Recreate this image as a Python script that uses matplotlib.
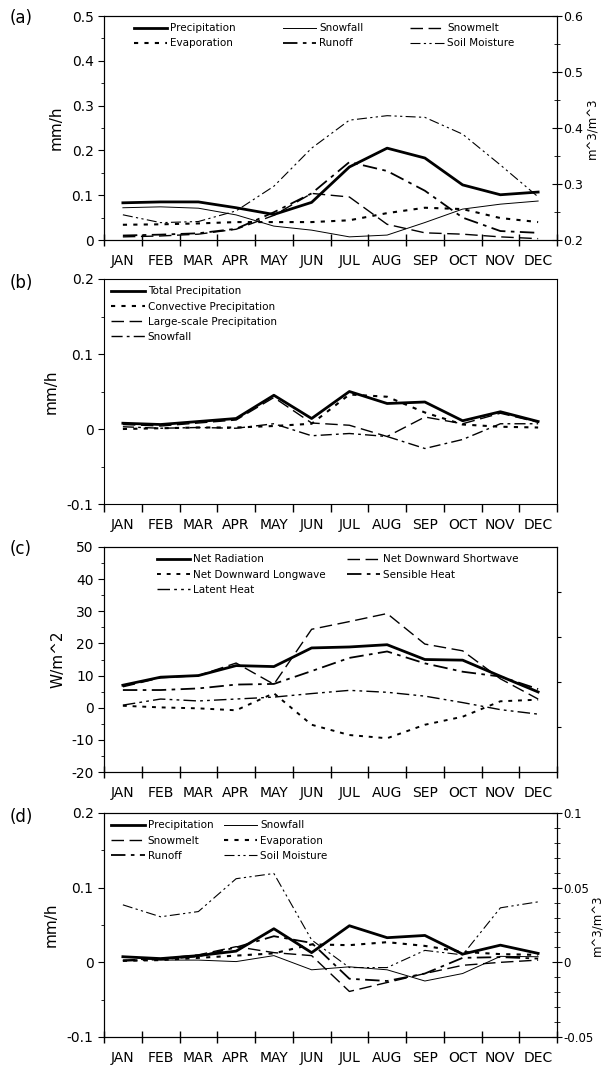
import matplotlib
matplotlib.use('Agg')
import matplotlib.pyplot as plt
import numpy as np

plt.rcParams['font.family'] = ['DejaVu Sans']

months = ['JAN', 'FEB', 'MAR', 'APR', 'MAY', 'JUN', 'JUL', 'AUG', 'SEP', 'OCT', 'NOV', 'DEC']

# --- (a) climatologia ---
a_precip = [0.083, 0.085, 0.085, 0.072, 0.057, 0.084, 0.163, 0.205, 0.183, 0.123, 0.101, 0.107]
a_snowfall = [0.072, 0.074, 0.071, 0.056, 0.031, 0.022, 0.007, 0.011, 0.039, 0.069, 0.080, 0.087]
a_snowmelt = [0.007, 0.009, 0.013, 0.024, 0.055, 0.104, 0.096, 0.035, 0.016, 0.013, 0.007, 0.003]
a_evap = [0.034, 0.035, 0.037, 0.040, 0.040, 0.040, 0.044, 0.060, 0.072, 0.069, 0.049, 0.040]
a_runoff = [0.010, 0.012, 0.015, 0.025, 0.062, 0.104, 0.174, 0.154, 0.110, 0.050, 0.020, 0.016]
a_soil = [0.245, 0.231, 0.233, 0.252, 0.296, 0.364, 0.414, 0.422, 0.419, 0.389, 0.334, 0.277]

# --- (b) diferencia de precipitacion ---
b_total = [0.0077, 0.006, 0.010, 0.014, 0.045, 0.014, 0.050, 0.034, 0.036, 0.011, 0.023, 0.010]
b_conv = [0.000, 0.001, 0.002, 0.002, 0.004, 0.007, 0.046, 0.043, 0.022, 0.006, 0.003, 0.002]
b_large = [0.006, 0.004, 0.008, 0.012, 0.042, 0.008, 0.005, -0.010, 0.016, 0.007, 0.021, 0.009]
b_snow = [0.003, 0.001, 0.002, 0.001, 0.007, -0.009, -0.006, -0.010, -0.026, -0.014, 0.007, 0.007]

# --- (c) balance de energia ---
c_netrad = [7.0, 9.5, 10.0, 13.1, 12.8, 18.6, 18.9, 19.6, 15.0, 14.8, 9.8, 4.9]
c_sw = [6.5, 9.3, 10.0, 13.9, 7.3, 24.4, 26.8, 29.3, 19.8, 17.7, 9.0, 2.7]
c_lw = [0.6, 0.1, -0.2, -0.8, 4.5, -5.3, -8.5, -9.5, -5.3, -2.8, 2.0, 2.5]
c_sens = [5.5, 5.5, 6.0, 7.2, 7.4, 11.4, 15.5, 17.5, 13.8, 11.2, 9.7, 5.8]
c_lat = [0.8, 2.7, 2.1, 2.7, 3.3, 4.4, 5.4, 4.8, 3.6, 1.6, -0.6, -2.0]

# --- (d) diferencias ---
d_precip = [0.0075, 0.005, 0.009, 0.015, 0.045, 0.013, 0.049, 0.033, 0.036, 0.011, 0.023, 0.012]
d_snowfall = [0.008, 0.003, 0.003, 0.001, 0.009, -0.010, -0.006, -0.010, -0.025, -0.015, 0.008, 0.0075]
d_snowmelt = [0.003, 0.005, 0.010, 0.021, 0.013, 0.009, -0.039, -0.027, -0.015, -0.004, 0.000, 0.003]
d_evap = [0.002, 0.003, 0.006, 0.009, 0.012, 0.024, 0.023, 0.027, 0.022, 0.014, 0.011, 0.010]
d_runoff = [0.002, 0.004, 0.008, 0.020, 0.035, 0.026, -0.022, -0.025, -0.015, 0.006, 0.007, 0.005]
d_soil = [0.0385, 0.0305, 0.034, 0.056, 0.0595, 0.015, -0.0035, -0.0035, 0.008, 0.005, 0.0365, 0.0405]

x = np.arange(12) + 0.5

LS_SOLID = '-'
LS_MELT = (0, (9, 4))
LS_EVAP = (0, (2, 3))
LS_RUN = (0, (8, 3, 2, 3))
LS_SOIL = (0, (9, 3, 2, 3, 2, 3))

fig = plt.figure(figsize=(6.06, 10.75), dpi=100)
W = 606.0
H = 1075.0


def make_ax(top, bottom):
    return fig.add_axes([104 / W, 1 - bottom / H, 453 / W, (bottom - top) / H])


def style_x(ax):
    ax.set_xlim(0, 12)
    ax.set_xticks(np.arange(0, 13))
    ax.set_xticklabels([])
    ax.set_xticks(x, minor=True)
    ax.set_xticklabels(months, minor=True, fontsize=10)
    ax.tick_params(axis='x', which='major', direction='inout', length=9, width=1)
    ax.tick_params(axis='x', which='minor', length=0, pad=10)


def style_y(ax, minor):
    ax.yaxis.set_minor_locator(matplotlib.ticker.MultipleLocator(minor))
    ax.tick_params(axis='y', which='major', direction='out', length=4, labelsize=10)
    ax.tick_params(axis='y', which='minor', direction='out', length=2)


def fmt(v, pos):
    return '%g' % v


def style_right(ax2, minor, labelx):
    ax2.yaxis.set_major_formatter(matplotlib.ticker.FuncFormatter(fmt))
    ax2.yaxis.set_minor_locator(matplotlib.ticker.MultipleLocator(minor))
    ax2.tick_params(axis='y', which='major', direction='inout', length=7, labelsize=9, pad=1)
    ax2.tick_params(axis='y', which='minor', direction='inout', length=4)
    ax2.set_ylabel('m^3/m^3', fontsize=8.5)
    ax2.yaxis.set_label_coords(labelx, 0.5)


kw_leg = dict(frameon=False, fontsize=7.5, handlelength=3.2, handletextpad=0.3,
              borderaxespad=0.3, labelspacing=0.5)

# ================= (a) =================
ax = make_ax(16, 240)
ax.plot(x, a_precip, color='k', lw=2.0, ls=LS_SOLID, label='Precipitation')
ax.plot(x, a_snowfall, color='k', lw=0.7, ls=LS_SOLID, label='Snowfall')
ax.plot(x, a_snowmelt, color='k', lw=1.0, ls=LS_MELT, label='Snowmelt')
ax.plot(x, a_evap, color='k', lw=1.5, ls=LS_EVAP, label='Evaporation')
ax.plot(x, a_runoff, color='k', lw=1.3, ls=LS_RUN, label='Runoff')
ax.set_ylim(0, 0.5)
ax.set_yticks([0, 0.1, 0.2, 0.3, 0.4, 0.5])
ax.yaxis.set_major_formatter(matplotlib.ticker.FuncFormatter(fmt))
style_x(ax)
style_y(ax, 0.05)
ax.set_ylabel('mm/h', fontsize=11, labelpad=6)
ax2 = ax.twinx()
ax2.plot(x, a_soil, color='k', lw=0.8, ls=LS_SOIL, label='Soil Moisture')
ax2.set_ylim(0.2, 0.6)
ax2.set_yticks([0.2, 0.3, 0.4, 0.5, 0.6])
style_right(ax2, 0.05, 1.065)
h = ax.get_lines() + ax2.get_lines()
order = [0, 3, 1, 4, 2, 5]
ax.legend([h[i] for i in order], [h[i].get_label() for i in order], ncol=3,
          loc='upper left', bbox_to_anchor=(0.05, 1.0), columnspacing=4.5, **kw_leg)
fig.text(10 / W, 1 - 18 / H, '(a)', fontsize=12, va='center')

# ================= (b) =================
ax = make_ax(279, 504)
ax.plot(x, b_total, color='k', lw=2.0, ls=LS_SOLID, label='Total Precipitation')
ax.plot(x, b_conv, color='k', lw=1.5, ls=LS_EVAP, label='Convective Precipitation')
ax.plot(x, b_large, color='k', lw=1.0, ls=LS_MELT, label='Large-scale Precipitation')
ax.plot(x, b_snow, color='k', lw=1.0, ls=LS_RUN, label='Snowfall')
ax.set_ylim(-0.1, 0.2)
ax.set_yticks([-0.1, 0, 0.1, 0.2])
ax.yaxis.set_major_formatter(matplotlib.ticker.FuncFormatter(fmt))
style_x(ax)
style_y(ax, 0.05)
ax.tick_params(axis='x', which='major', direction='out', length=6)
ax.set_ylabel('mm/h', fontsize=11, labelpad=6)
ax.legend(loc='upper left', **kw_leg)
fig.text(10 / W, 1 - 283 / H, '(b)', fontsize=12, va='center')

# ================= (c) =================
ax = make_ax(547, 772)
ax.plot(x, c_netrad, color='k', lw=2.0, ls=LS_SOLID, label='Net Radiation')
ax.plot(x, c_lw, color='k', lw=1.4, ls=LS_EVAP, label='Net Downward Longwave')
ax.plot(x, c_lat, color='k', lw=1.0, ls=LS_SOIL, label='Latent Heat')
ax.plot(x, c_sw, color='k', lw=1.0, ls=LS_MELT, label='Net Downward Shortwave')
ax.plot(x, c_sens, color='k', lw=1.3, ls=LS_RUN, label='Sensible Heat')
ax.set_ylim(-20, 50)
ax.set_yticks(np.arange(-20, 51, 10))
ax.yaxis.set_major_formatter(matplotlib.ticker.FuncFormatter(fmt))
style_x(ax)
style_y(ax, 5)
ax.set_ylabel('W/m^2', fontsize=11, labelpad=4)
ax.legend(ncol=2, loc='upper left', bbox_to_anchor=(0.1, 1.0), columnspacing=2.0, **kw_leg)
ax3 = ax.twinx()
ax3.set_ylim(0, 1)
ax3.set_yticks([0.2, 0.4, 0.6, 0.8])
ax3.set_yticklabels([])
ax3.tick_params(axis='y', direction='out', length=3)
fig.text(10 / W, 1 - 549 / H, '(c)', fontsize=12, va='center')

# ================= (d) =================
ax = make_ax(813, 1037)
ax.plot(x, d_precip, color='k', lw=2.0, ls=LS_SOLID, label='Precipitation')
ax.plot(x, d_snowfall, color='k', lw=0.7, ls=LS_SOLID, label='Snowfall')
ax.plot(x, d_snowmelt, color='k', lw=1.0, ls=LS_MELT, label='Snowmelt')
ax.plot(x, d_evap, color='k', lw=1.5, ls=LS_EVAP, label='Evaporation')
ax.plot(x, d_runoff, color='k', lw=1.3, ls=LS_RUN, label='Runoff')
ax.set_ylim(-0.1, 0.2)
ax.set_yticks([-0.1, 0, 0.1, 0.2])
ax.yaxis.set_major_formatter(matplotlib.ticker.FuncFormatter(fmt))
style_x(ax)
style_y(ax, 0.05)
ax.set_ylabel('mm/h', fontsize=11, labelpad=6)
ax2 = ax.twinx()
ax2.plot(x, d_soil, color='k', lw=0.8, ls=LS_SOIL, label='Soil Moisture')
ax2.set_ylim(-0.05, 0.1)
ax2.set_yticks([-0.05, 0, 0.05, 0.1])
style_right(ax2, 0.01, 1.076)
ax2.tick_params(axis='y', which='major', labelsize=8.5)
h = ax.get_lines() + ax2.get_lines()
order = [0, 2, 4, 1, 3, 5]
ax.legend([h[i] for i in order], [h[i].get_label() for i in order], ncol=2,
          loc='upper left', columnspacing=1.0, **kw_leg)
fig.text(10 / W, 1 - 817 / H, '(d)', fontsize=12, va='center')

plt.savefig('out.png', dpi=100)
